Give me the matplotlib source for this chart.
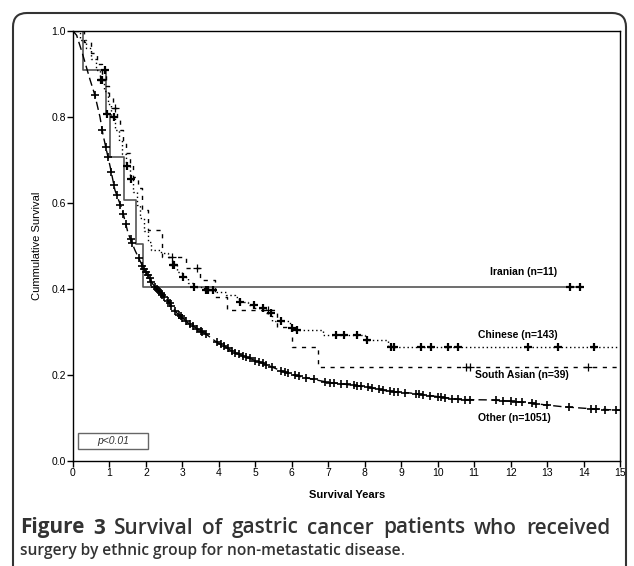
"""Kaplan-Meier survival by ethnic group (gastric cancer, non-metastatic)."""

import matplotlib
matplotlib.use("Agg")
import matplotlib.pyplot as plt
import numpy as np
from matplotlib.patches import FancyBboxPatch, Rectangle

# ---- data ----
iranian_t = [0, 0.27, 0.91, 1.02, 1.40, 1.73, 1.92, 13.95]
iranian_s = [1.0, 0.909, 0.808, 0.707, 0.606, 0.505, 0.404, 0.404]
iranian_cens = [0.88, 0.93, 13.62, 13.9]

chinese_t = [0, 0.2, 0.35, 0.5, 0.62, 0.75, 0.85, 0.95, 1.05, 1.15, 1.25, 1.35,
             1.45, 1.55, 1.65, 1.75, 1.85, 1.95, 2.05, 2.15, 2.4, 2.6, 2.73,
             2.85, 3.0, 3.15, 3.3, 3.6, 3.9, 4.2, 4.45, 4.55, 4.8, 5.0, 5.3,
             5.45, 5.95, 6.1, 6.85, 8.0, 8.65, 15]
chinese_s = [1.0, 0.98, 0.96, 0.935, 0.91, 0.885, 0.86, 0.83, 0.80, 0.77, 0.745,
             0.715, 0.685, 0.655, 0.625, 0.595, 0.565, 0.535, 0.51, 0.49, 0.484,
             0.474, 0.456, 0.44, 0.428, 0.415, 0.405, 0.398, 0.392, 0.385,
             0.381, 0.37, 0.362, 0.356, 0.344, 0.326, 0.31, 0.305, 0.293,
             0.281, 0.265, 0.265]
chinese_cens = [0.78, 0.8, 1.12, 1.48, 1.58, 2.74, 2.78, 3.02, 3.32, 3.65, 3.7,
                3.85, 4.59, 4.95, 5.22, 5.42, 5.7, 6.0, 6.15, 7.2, 7.42, 7.8,
                8.07, 8.72, 8.8, 9.53, 9.81, 10.27, 10.55, 12.47, 13.3, 14.29]

sasian_t = [0, 0.3, 0.5, 0.65, 0.8, 0.9, 1.0, 1.1, 1.2, 1.3, 1.37, 1.45, 1.55,
            1.65, 1.78, 1.88, 2.05, 2.45, 3.1, 3.49, 3.9, 4.23, 5.6, 6.0, 6.72, 15]
sasian_s = [1.0, 0.974, 0.949, 0.923, 0.897, 0.872, 0.846, 0.821, 0.795, 0.769,
            0.743, 0.717, 0.69, 0.66, 0.635, 0.584, 0.537, 0.474, 0.449, 0.42,
            0.381, 0.351, 0.312, 0.265, 0.219, 0.219]
sasian_cens = [1.15, 2.72, 3.4, 5.36, 10.77, 10.9, 14.12]

other_t = [0, 0.1, 0.25, 0.47, 0.6, 0.74, 0.82, 1.02, 1.15, 1.35, 1.51, 1.7,
           1.92, 2.2, 2.58, 2.85, 3.2, 3.5, 3.68, 3.96, 4.23, 4.4, 4.8, 5.33,
           5.7, 6.04, 6.7, 7.0, 7.6, 8.07, 8.6, 9.26, 9.8, 10.6, 11.45, 12.0,
           12.55, 13.0, 13.46, 14.3, 15]
other_s = [1.0, 0.99, 0.95, 0.886, 0.851, 0.80, 0.76, 0.684, 0.63, 0.584, 0.53,
           0.49, 0.451, 0.41, 0.375, 0.344, 0.318, 0.303, 0.293, 0.275, 0.263,
           0.253, 0.24, 0.223, 0.21, 0.2, 0.188, 0.183, 0.177, 0.172, 0.163,
           0.158, 0.152, 0.143, 0.142, 0.139, 0.135, 0.13, 0.126, 0.121, 0.118]
other_cens = [0.6, 0.8, 0.9, 0.96, 1.05, 1.12, 1.2, 1.3, 1.38, 1.45, 1.58,
              1.62, 1.8, 1.9, 1.95, 2.0, 2.05, 2.1, 2.15, 2.25, 2.3, 2.35, 2.4,
              2.45, 2.5, 2.6, 2.65, 2.7, 2.8, 2.9, 2.95, 3.0, 3.1, 3.2, 3.3,
              3.4, 3.5, 3.55, 3.65, 3.95, 4.05, 4.15, 4.25, 4.35, 4.45, 4.55,
              4.65, 4.75, 4.85, 5.0, 5.1, 5.2, 5.3, 5.45, 5.7, 5.8, 5.9, 6.1,
              6.2, 6.4, 6.6, 6.9, 7.05, 7.15, 7.35, 7.5, 7.7, 7.8, 7.9, 8.1,
              8.2, 8.4, 8.5, 8.7, 8.8, 8.9, 9.1, 9.4, 9.5, 9.6, 9.8, 10.0, 10.1,
              10.2, 10.4, 10.55, 10.75, 10.9, 11.6, 11.8, 12.0, 12.15, 12.3,
              12.6, 12.7, 13.0, 13.6, 14.2, 14.35, 14.6, 14.9]

group_labels = ["Iranian (n=11)", "Chinese (n=143)", "South Asian (n=39)", "Other (n=1051)"]
label_pos = [(12.35, 0.44), (12.2, 0.293), (12.3, 0.2), (12.1, 0.1)]

x_ticks = list(range(0, 16))
y_ticks = [0.0, 0.2, 0.4, 0.6, 0.8, 1.0]

caption_line1 = [("Figure", "bold"), ("3", "bold"), ("Survival", "semibold"),
                 ("of", "semibold"), ("gastric", "semibold"), ("cancer", "semibold"),
                 ("patients", "semibold"), ("who", "semibold"), ("received", "semibold")]
caption_line2 = "surgery by ethnic group for non-metastatic disease"

W, H = 634, 566


def step_value(t, s, x):
    i = np.searchsorted(t, x, side="right") - 1
    return np.asarray(s)[i]


def main():
    fig = plt.figure(figsize=(W / 100, H / 100), dpi=100)
    ax = fig.add_axes([73 / W, 1 - 461 / H, (620 - 73) / W, (461 - 31) / H])

    # curves
    ax.plot(iranian_t, iranian_s, drawstyle="steps-post", color="#555555", lw=1.2)
    ax.plot(chinese_t, chinese_s, drawstyle="steps-post", color="black", lw=1.0,
            linestyle=(0, (1, 2)))
    ax.plot(sasian_t, sasian_s, drawstyle="steps-post", color="black", lw=1.0,
            linestyle=(0, (3, 4)))
    ax.plot(other_t, other_s, color="black", lw=1.0, linestyle=(0, (6, 3)))

    # censor marks
    ax.plot(iranian_cens, step_value(iranian_t, iranian_s, iranian_cens), "+",
            color="black", ms=5.5, mew=1.6)
    ax.plot(chinese_cens, step_value(chinese_t, chinese_s, chinese_cens), "+",
            color="black", ms=5.5, mew=1.6)
    ax.plot(sasian_cens, step_value(sasian_t, sasian_s, sasian_cens), "+",
            color="black", ms=5.5, mew=0.9)
    ax.plot(other_cens, np.interp(other_cens, other_t, other_s), "+",
            color="black", ms=5.5, mew=1.2)

    for lab, (x, y) in zip(group_labels, label_pos):
        ax.text(x, y, lab, ha="center", va="center", fontsize=7.5,
                fontweight="bold", family="Liberation Sans")

    # p-value box
    ax.add_patch(Rectangle((0.15, 0.028), 1.9, 0.038, fill=False,
                           edgecolor="#666666", lw=1.0))
    ax.text(1.1, 0.047, "p<0.01", ha="center", va="center", fontsize=7.5,
            style="italic", color="#333333", family="Liberation Sans")

    ax.set_xlim(0, 15)
    ax.set_ylim(0, 1)
    ax.set_xticks(x_ticks)
    ax.set_yticks(y_ticks)
    ax.set_yticklabels([f"{v:.1f}" for v in y_ticks])
    ax.tick_params(direction="out", length=4, width=1, labelsize=7.5, pad=1)
    for lbl in ax.get_xticklabels() + ax.get_yticklabels():
        lbl.set_family("Liberation Sans")
    for sp in ax.spines.values():
        sp.set_linewidth(1.0)

    fig.text(37 / W, 1 - 246 / H, "Cummulative Survival", rotation=90,
             ha="center", va="center", fontsize=8, family="Liberation Sans")
    fig.text(347 / W, 1 - 495 / H, "Survival Years", ha="center", va="center",
             fontsize=8, fontweight="bold", family="Liberation Sans")

    # outer rounded frame
    frame = FancyBboxPatch((13 / W, -0.05), (626 - 13) / W, 1 - 13 / H + 0.05,
                           boxstyle="round,pad=0,rounding_size=0.022",
                           mutation_aspect=W / H, transform=fig.transFigure,
                           fill=False, edgecolor="#333333", lw=1.5, clip_on=False)
    fig.patches.append(frame)

    # caption: first line justified between x0 and x1 with ~9 px word gaps
    renderer = fig.canvas.get_renderer()
    cap = dict(color="#333333", family="Open Sans")
    x0, x1, word_gap = 20, 610, 9
    texts = [fig.text(0, 1 - 528 / H, w, va="center", fontweight=fw,
                      fontsize=11.2, **cap) for w, fw in caption_line1]
    widths = [t.get_window_extent(renderer).width for t in texts]
    scale = (x1 - x0 - word_gap * (len(texts) - 1)) / sum(widths)
    for t in texts:
        t.set_fontsize(11.2 * scale)
    widths = [t.get_window_extent(renderer).width for t in texts]
    gap = (x1 - x0 - sum(widths)) / (len(texts) - 1)
    x = x0
    for t, w in zip(texts, widths):
        t.set_x(x / W)
        x += w + gap

    t2 = fig.text(20 / W, 1 - 551 / H, caption_line2, va="center",
                  fontweight="semibold", fontsize=11.2, **cap)
    w2 = t2.get_window_extent(renderer).width
    fig.text((20 + w2) / W, 1 - 551 / H, ".", va="center", fontsize=11.2, **cap)

    fig.savefig("out.png", dpi=100)
    plt.close(fig)


if __name__ == "__main__":
    main()
